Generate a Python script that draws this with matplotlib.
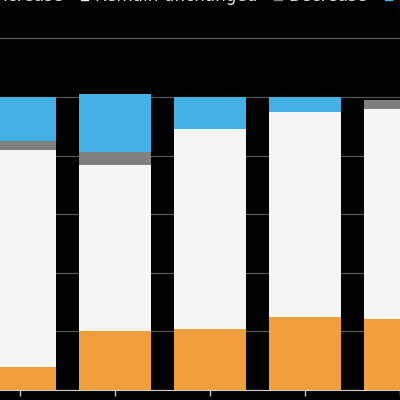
import numpy as np
import matplotlib
matplotlib.use("Agg")
import matplotlib.pyplot as plt
from matplotlib.patches import Patch

# values (percent of respondents)
labels = ["Increase", "Remain unchanged", "Decrease", "Don't know"]
increase = [7.8, 20.0, 20.8, 25.0, 24.1]
unchanged = [74.1, 56.9, 68.2, 69.9, 71.7]
decrease = [3.1, 4.2, 0.0, 0.0, 3.3]
dont_know = [15.0, 19.9, 11.0, 5.1, 0.0]
colors = ["#f0a03a", "#f5f5f5", "#808080", "#43b1e5"]

fig = plt.figure(figsize=(4, 4), dpi=100, facecolor="black")
ax = fig.add_axes([0, 0.025, 1, 0.975], facecolor="black")

x = np.arange(len(increase))
bottom = np.zeros(len(x))
for vals, c in zip([increase, unchanged, decrease, dont_know], colors):
    ax.bar(x, vals, width=0.75, bottom=bottom, color=c, zorder=2)
    bottom += np.array(vals)

ax.set_xlim(-0.21, 3.89)
ax.set_ylim(0, 133.1)
ax.set_yticks(np.arange(0, 121, 20))
ax.yaxis.grid(True, color="#555555", linewidth=0.9, zorder=0)
ax.tick_params(axis="y", left=False, labelleft=False)
ax.set_xticks(x)
ax.set_xticklabels([])
ax.tick_params(axis="x", colors="#cccccc", length=4, width=1)
for s in ["left", "right", "top"]:
    ax.spines[s].set_visible(False)
ax.spines["bottom"].set_color("#cccccc")

# legend sits partly above the visible area (cut off like in the source)
handles = [Patch(color=c) for c in colors]
fig.legend(handles, labels, ncol=4, loc="center left", bbox_to_anchor=(-0.055, 1.009),
           frameon=False, fontsize=12.2, labelcolor="#dddddd",
           handlelength=0.45, handleheight=0.45, handletextpad=0.4,
           columnspacing=1.0, borderpad=0, borderaxespad=0)

fig.savefig("out.png", dpi=100, facecolor="black")
